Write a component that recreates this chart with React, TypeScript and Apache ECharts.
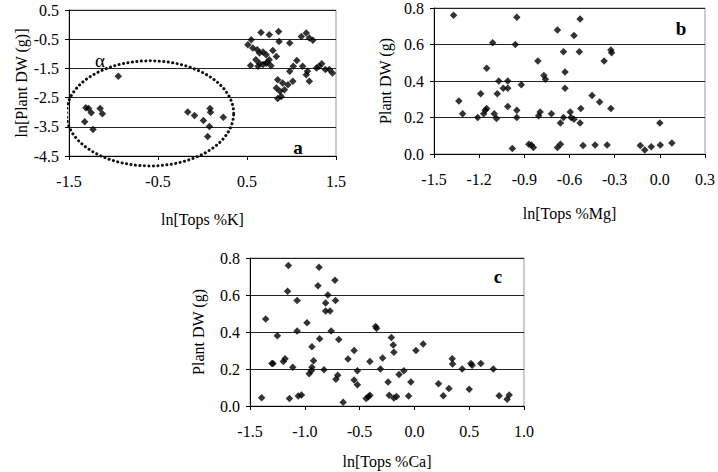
import React, { useEffect, useRef } from "react";
import * as echarts from "echarts";

// Panel a: ln[Tops %K] vs ln[Plant DW (g)]
const kPoints: [number, number][] = [
  [-1.324, -3.33], [-1.31, -2.85], [-1.28, -2.875], [-1.25, -3.02], [-1.23, -3.59],
  [-1.15, -2.875], [-1.125, -3.05], [-0.946, -1.77],
  [-0.166, -2.99], [-0.09, -3.11], [0.01, -3.28], [0.084, -2.875], [0.09, -3.0],
  [0.077, -3.49], [0.058, -3.83], [0.234, -3.17],
  [0.657, -0.27], [0.75, -0.35], [0.855, -0.24], [0.548, -0.52], [0.51, -0.69],
  [0.565, -0.8], [0.86, -0.58], [0.615, -0.86], [0.64, -0.97], [0.68, -0.94],
  [0.715, -1.03], [0.79, -0.89], [0.83, -1.09], [0.75, -1.2], [0.64, -1.32],
  [0.68, -1.37], [0.715, -1.32], [0.77, -1.41], [0.54, -1.4], [0.625, -1.43],
  [0.98, -0.63], [1.11, -0.41], [1.166, -0.29], [1.2, -0.46], [1.24, -0.54],
  [1.06, -1.23], [1.02, -1.43], [1.125, -1.43], [1.18, -1.6], [0.98, -1.6],
  [1.166, -1.72], [1.2, -1.94], [1.28, -1.49], [1.34, -1.34], [1.38, -1.54],
  [1.425, -1.54], [1.46, -1.66], [1.31, -1.43], [0.845, -1.89], [0.9, -2.0],
  [0.96, -2.06], [1.015, -1.94], [0.83, -2.17], [0.87, -2.28], [0.92, -2.23],
  [0.885, -2.46], [0.845, -2.53], [0.6, -1.2], [0.73, -1.29],
];

// Panel b: ln[Tops %Mg] vs Plant DW (g)
const mgPoints: [number, number][] = [
  [-1.37, 0.76], [-1.335, 0.29], [-1.31, 0.22], [-1.21, 0.2], [-1.19, 0.33],
  [-1.17, 0.22], [-1.16, 0.24], [-1.15, 0.25], [-1.15, 0.47], [-1.11, 0.61],
  [-1.1, 0.22], [-1.085, 0.195], [-1.08, 0.33], [-1.07, 0.4], [-1.04, 0.36],
  [-1.01, 0.36], [-1.01, 0.4], [-1.01, 0.26], [-0.98, 0.03], [-0.95, 0.75],
  [-0.96, 0.6], [-0.95, 0.24], [-0.95, 0.2], [-0.92, 0.38], [-0.87, 0.054],
  [-0.853, 0.05], [-0.84, 0.036], [-0.81, 0.51], [-0.805, 0.21], [-0.795, 0.23],
  [-0.77, 0.43], [-0.76, 0.41], [-0.72, 0.22], [-0.68, 0.68], [-0.68, 0.036],
  [-0.66, 0.054], [-0.66, 0.17], [-0.64, 0.2], [-0.64, 0.56], [-0.63, 0.45],
  [-0.63, 0.36], [-0.595, 0.23], [-0.59, 0.2], [-0.57, 0.19], [-0.57, 0.65],
  [-0.535, 0.56], [-0.53, 0.74], [-0.53, 0.17], [-0.525, 0.25], [-0.51, 0.047],
  [-0.45, 0.32], [-0.43, 0.05], [-0.4, 0.285], [-0.37, 0.51], [-0.35, 0.05],
  [-0.325, 0.25], [-0.325, 0.57], [-0.32, 0.555], [-0.13, 0.047], [-0.1, 0.022],
  [-0.057, 0.04], [0.003, 0.05], [0.0, 0.17], [0.08, 0.06],
];

// Panel c: ln[Tops %Ca] vs Plant DW (g)
const caPoints: [number, number][] = [
  [-1.394, 0.045], [-1.357, 0.47], [-1.3, 0.23], [-1.29, 0.23], [-1.25, 0.38],
  [-1.196, 0.24], [-1.18, 0.256], [-1.157, 0.62], [-1.15, 0.76], [-1.14, 0.04],
  [-1.11, 0.21], [-1.07, 0.405], [-1.07, 0.57], [-1.06, 0.054], [-1.03, 0.06],
  [-0.98, 0.45], [-0.96, 0.175], [-0.94, 0.19], [-0.935, 0.32], [-0.935, 0.21],
  [-0.92, 0.245], [-0.88, 0.65], [-0.87, 0.75], [-0.865, 0.364], [-0.825, 0.196],
  [-0.81, 0.557], [-0.81, 0.514], [-0.79, 0.6], [-0.77, 0.514], [-0.76, 0.405],
  [-0.725, 0.68], [-0.72, 0.57], [-0.716, 0.144], [-0.7, 0.166], [-0.69, 0.36],
  [-0.65, 0.02], [-0.606, 0.254], [-0.55, 0.3], [-0.55, 0.14], [-0.52, 0.19],
  [-0.52, 0.115], [-0.44, 0.04], [-0.42, 0.05], [-0.406, 0.058], [-0.406, 0.24],
  [-0.354, 0.43], [-0.345, 0.42], [-0.31, 0.2], [-0.29, 0.26], [-0.24, 0.13],
  [-0.23, 0.058], [-0.21, 0.37], [-0.193, 0.33], [-0.187, 0.29], [-0.187, 0.043],
  [-0.163, 0.052], [-0.14, 0.17], [-0.096, 0.19], [-0.053, 0.054], [-0.032, 0.13],
  [0.014, 0.3], [0.08, 0.335], [0.22, 0.12], [0.263, 0.056], [0.315, 0.094],
  [0.345, 0.256], [0.348, 0.227], [0.436, 0.2], [0.5, 0.09], [0.515, 0.23],
  [0.527, 0.22], [0.606, 0.23], [0.72, 0.2], [0.773, 0.056], [0.846, 0.036],
  [0.865, 0.06],
];

// Tick values
const kTicksX = [-1.5, -0.5, 0.5, 1.5];
const kTicksY = [-4.5, -3.5, -2.5, -1.5, -0.5, 0.5];
const mgTicksX = [-1.5, -1.2, -0.9, -0.6, -0.3, 0.0, 0.3];
const caTicksX = [-1.5, -1.0, -0.5, 0.0, 0.5, 1.0];
const dwTicks = [0.0, 0.2, 0.4, 0.6, 0.8];

// Dotted ellipse enclosing the low-K group (center and semi-axes in data units)
const groupCenter = [-0.59, -3.04];
const groupRadii = [0.94, 1.8];

const FONT = "'Liberation Serif', 'Times New Roman', serif";

function ellipsePoints(): [number, number][] {
  const pts: [number, number][] = [];
  const n = 160;
  for (let i = 0; i <= n; i++) {
    const t = (i / n) * Math.PI * 2;
    pts.push([
      groupCenter[0] + groupRadii[0] * Math.cos(t),
      groupCenter[1] + groupRadii[1] * Math.sin(t),
    ]);
  }
  return pts;
}

function xAxis(gridIndex: number, ticks: number[], name: string, nameGap: number) {
  return {
    type: "value",
    gridIndex,
    min: ticks[0],
    max: ticks[ticks.length - 1],
    name,
    nameLocation: "middle",
    nameGap,
    nameTextStyle: { color: "#000", fontFamily: FONT, fontSize: 16 },
    axisLine: { show: true, onZero: false, lineStyle: { color: "#000", width: 1 } },
    axisTick: { show: true, customValues: ticks, length: 4, lineStyle: { color: "#000" } },
    axisLabel: {
      customValues: ticks,
      formatter: (v: number) => v.toFixed(1),
      color: "#000",
      fontFamily: FONT,
      fontSize: 16,
      margin: 17,
    },
    splitLine: { show: false },
  };
}

function yAxis(gridIndex: number, ticks: number[], name: string, nameGap: number) {
  return {
    type: "value",
    gridIndex,
    min: ticks[0],
    max: ticks[ticks.length - 1],
    name,
    nameLocation: "middle",
    nameGap,
    nameRotate: 90,
    nameTextStyle: { color: "#000", fontFamily: FONT, fontSize: 16 },
    axisLine: { show: true, onZero: false, lineStyle: { color: "#000", width: 1 } },
    axisTick: { show: true, customValues: ticks, length: 4, lineStyle: { color: "#000" } },
    axisLabel: {
      customValues: ticks,
      formatter: (v: number) => v.toFixed(1),
      color: "#000",
      fontFamily: FONT,
      fontSize: 16,
      margin: 10,
    },
    splitLine: { show: true, lineStyle: { color: "#222", width: 1 } },
  };
}

function scatter(idx: number, data: [number, number][]) {
  return {
    type: "scatter",
    xAxisIndex: idx,
    yAxisIndex: idx,
    data,
    symbol: "diamond",
    symbolSize: 7.5,
    itemStyle: { color: "#000" },
    silent: true,
  };
}

function panelLabel(text: string, x: number, y: number, bold = true) {
  return {
    type: "text",
    x,
    y,
    style: {
      text,
      fill: "#000",
      font: `${bold ? "bold " : ""}19px ${FONT}`,
      align: "center",
      verticalAlign: "middle",
      textAlign: "center",
      textVerticalAlign: "middle",
    },
  };
}

export default function App() {
  const ref = useRef<HTMLDivElement>(null);

  useEffect(() => {
    if (!ref.current) return;
    const chart = echarts.init(ref.current, null, { renderer: "svg" });
    const gridStyle = { show: true, borderColor: "#999", borderWidth: 1, backgroundColor: "transparent" };
    chart.setOption({
      animation: false,
      backgroundColor: "#fff",
      grid: [
        { left: 69, top: 10, width: 267, height: 146, ...gridStyle },
        { left: 434, top: 6, width: 272, height: 148, ...gridStyle },
        { left: 250, top: 258, width: 274, height: 148, ...gridStyle },
      ],
      xAxis: [
        xAxis(0, kTicksX, "ln[Tops %K]", 55),
        xAxis(1, mgTicksX, "ln[Tops %Mg]", 51),
        xAxis(2, caTicksX, "ln[Tops %Ca]", 47),
      ],
      yAxis: [
        yAxis(0, kTicksY, "ln[Plant DW (g)]", 37),
        yAxis(1, dwTicks, "Plant DW (g)", 41),
        yAxis(2, dwTicks, "Plant DW (g)", 44),
      ],
      series: [
        {
          type: "line",
          xAxisIndex: 0,
          yAxisIndex: 0,
          data: ellipsePoints(),
          showSymbol: false,
          clip: false,
          silent: true,
          lineStyle: { color: "#111", width: 3, type: [0.1, 4.4], cap: "round" },
        },
        scatter(0, kPoints),
        scatter(1, mgPoints),
        scatter(2, caPoints),
      ],
      graphic: [
        panelLabel("a", 298, 147),
        panelLabel("b", 681, 28),
        panelLabel("c", 498, 276),
        panelLabel("α", 100, 60, false),
      ],
    });
    return () => chart.dispose();
  }, []);

  return (
    <div
      ref={ref}
      style={{ position: "fixed", left: 0, top: 0, width: 718, height: 472, background: "#fff" }}
    />
  );
}
